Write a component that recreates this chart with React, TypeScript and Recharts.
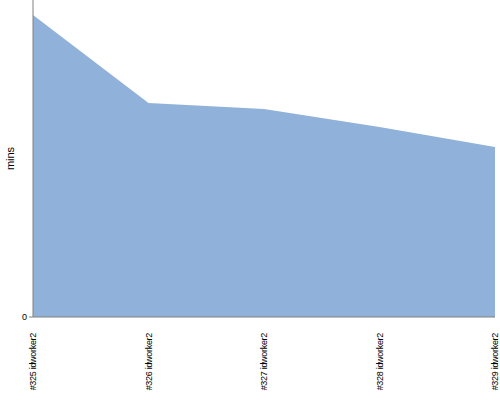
import { AreaChart, Area, XAxis, YAxis, Label } from "recharts";

const builds = [
  "#325 idworker2",
  "#326 idworker2",
  "#327 idworker2",
  "#328 idworker2",
  "#329 idworker2",
];
const durations = [9.53, 6.75, 6.56, 5.99, 5.36];
const yTicks = [0];

const data = builds.map((build, i) => ({ build, mins: durations[i] }));

const FONT = "'Liberation Sans', Arial, sans-serif";

function BuildTick(props: any) {
  const { x, y, payload } = props;
  return (
    <text
      x={0}
      y={0}
      transform={`translate(${x + 3},${y + 8}) rotate(-90)`}
      textAnchor="end"
      fontSize={9}
      fontFamily="'Liberation Sans Narrow', 'Liberation Sans', Arial, sans-serif"
      letterSpacing={-0.3}
      fill="#000"
    >
      {payload.value}
    </text>
  );
}

export default function App() {
  return (
    <div style={{ position: "absolute", left: 0, top: 0, background: "#fff" }}>
      <AreaChart
        width={500}
        height={400}
        data={data}
        margin={{ top: 0, right: 5, bottom: 0, left: 0 }}
      >
        <XAxis
          dataKey="build"
          height={83}
          interval={0}
          tick={<BuildTick />}
          tickLine={false}
          axisLine={{ stroke: "#808080" }}
        />
        <YAxis
          width={33}
          domain={[0, 10]}
          ticks={yTicks}
          tick={{ fontSize: 9, fill: "#000", fontFamily: FONT }}
          tickLine={{ stroke: "#808080" }}
          tickSize={4}
          axisLine={{ stroke: "#808080" }}
        >
          <Label
            value="mins"
            angle={-90}
            position="insideLeft"
            offset={10}
            style={{ fontSize: 11, fill: "#000", fontFamily: FONT, textAnchor: "middle" }}
          />
        </YAxis>
        <Area
          type="linear"
          dataKey="mins"
          stroke="none"
          fill="#90b2da"
          fillOpacity={1}
          isAnimationActive={false}
        />
      </AreaChart>
    </div>
  );
}
